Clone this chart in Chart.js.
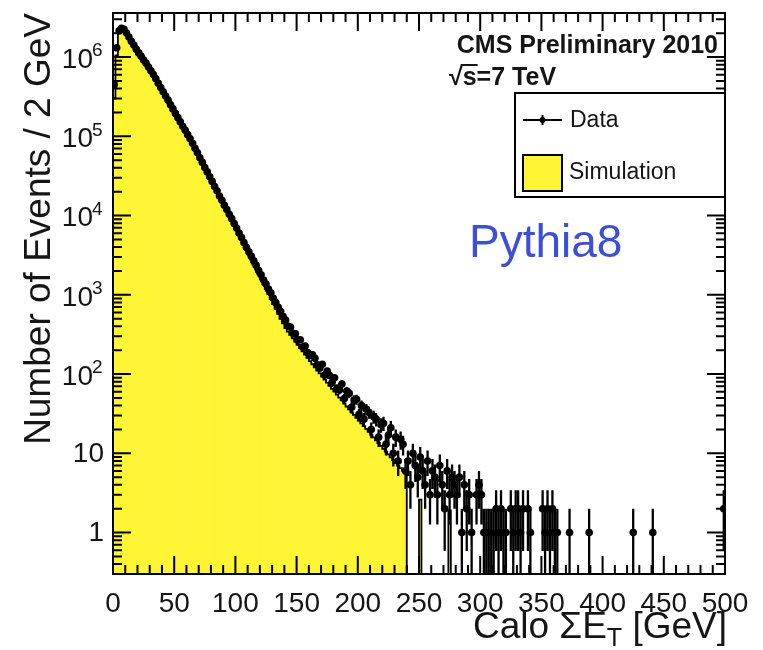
<!DOCTYPE html>
<html>
<head>
<meta charset="utf-8">
<script src="https://cdn.jsdelivr.net/npm/chart.js@4.4.1/dist/chart.umd.min.js"></script>
<style>
  html, body { margin: 0; padding: 0; background: #fff; }
  #wrap { width: 763px; height: 650px; }
</style>
</head>
<body>
<div id="wrap"><canvas id="calo-sumet" width="763" height="650"></canvas></div>
<script>
// Calo sum E_T, 2 GeV bins from 0 to 500 GeV
const binWidth = 2;

// events per bin, collision data
const dataCounts = [
  452000, 1310000, 2150000, 2300000, 2240000, 2010000, 1790000, 1580000, 1420000, 1260000,
  1130000, 1025000, 918000, 835000, 748000, 672000, 601000, 532000, 468000, 413000,
  364000, 322000, 286000, 250000, 222000, 194000, 172000, 152000, 134000, 119000,
  105000, 93100, 81600, 70500, 61900, 53600, 46900, 40500, 35600, 30800,
  27000, 23300, 20500, 17700, 15600, 13500, 11900, 10400, 9150, 7920,
  6950, 6010, 5270, 4560, 3990, 3500, 3060, 2680, 2350, 2030,
  1790, 1540, 1370, 1180, 1060, 905, 797, 696, 615, 532,
  481, 402, 391, 327, 322, 268, 271, 219, 226, 187,
  171, 175, 158, 131, 119, 133, 97, 109, 96, 78,
  90, 66, 63, 75, 49, 61, 57, 38, 47, 48,
  31, 40, 27, 36, 33, 20, 29, 27, 16, 23,
  24, 13, 17, 21, 10, 16, 8, 15, 13, 6,
  8, 4, 10, 7, 5, 9, 6, 4, 8, 3,
  6, 5, 3, 7, 4, 2, 6, 3, 5, 4,
  3, 5, 1, 4, 2, 3, 1, 0, 3, 4,
  3, 1, 1, 1, 1, 1, 2, 1, 2, 1,
  1, 0, 2, 1, 2, 2, 1, 2, 0, 2,
  1, 0, 0, 0, 0, 2, 1, 2, 1, 2,
  1, 1, 0, 0, 0, 0, 1, 0, 0, 0,
  0, 0, 0, 0, 1, 0, 0, 0, 0, 0,
  0, 0, 0, 0, 0, 0, 0, 0, 0, 0,
  0, 0, 1, 0, 0, 0, 0, 0, 0, 0,
  1, 0, 0, 0, 0, 0, 0, 0, 0, 0,
  0, 0, 0, 0, 0, 0, 0, 0, 0, 0,
  0, 0, 0, 0, 0, 0, 0, 0, 0, 2,
];

// events per bin, Pythia8 simulation normalised to data
const simCounts = [
  300000, 1050000, 2080000, 2270000, 2210000, 1990000, 1770000, 1570000, 1400000, 1245000,
  1115000, 1005000, 905000, 818000, 738000, 662000, 591000, 524000, 462000, 406000,
  358000, 316000, 280000, 246000, 217000, 191000, 168000, 148000, 131000, 116000,
  102000, 90000, 79000, 69000, 60200, 52500, 45800, 39900, 34800, 30300,
  26400, 23000, 20000, 17400, 15100, 13100, 11400, 9900, 8600, 7480,
  6500, 5650, 4900, 4250, 3690, 3200, 2780, 2410, 2090, 1810,
  1570, 1360, 1180, 1020, 885, 766, 663, 574, 497, 435,
  380, 344, 312, 283, 257, 233, 212, 193, 176, 160,
  146, 133, 122, 111, 102, 93, 85, 78, 71, 65,
  60, 55, 50.5, 46.5, 42.5, 39, 36, 33, 30.5, 28,
  25.8, 23.8, 22, 20.3, 18.7, 17.2, 15.9, 14.6, 13.5, 12.4,
  11.4, 10.5, 9.7, 8.9, 8.2, 7.6, 7.0, 6.5, 6.0, 5.6,
  0, 0, 0, 0, 0, 2.6, 0, 0, 0, 0,
  0, 0, 0, 0, 0, 0, 0, 1.9, 0, 0,
  0, 0, 0, 0, 0, 0, 0, 0, 0, 0,
  0, 0, 0, 0, 0, 0, 0, 0, 0, 0,
  0, 0, 0, 0, 0, 0, 0, 0, 0, 0,
  0, 0, 0, 0, 0, 0, 0, 0, 0, 0,
  0, 0, 0, 0, 0, 0, 0, 0, 0, 0,
  0, 0, 0, 0, 0, 0, 0, 0, 0, 0,
  0, 0, 0, 0, 0, 0, 0, 0, 0, 0,
  0, 0, 0, 0, 0, 0, 0, 0, 0, 0,
  0, 0, 0, 0, 0, 0, 0, 0, 0, 0,
  0, 0, 0, 0, 0, 0, 0, 0, 0, 0,
  0, 0, 0, 0, 0, 0, 0, 0, 0, 0,
];

const xTickValues = [0, 50, 100, 150, 200, 250, 300, 350, 400, 450, 500];
const xTickLabels = ['0', '50', '100', '150', '200', '250', '300', '350', '400', '450', '500'];
const yTickValues = [1, 10, 100, 1000, 10000, 100000, 1000000];
const yTickBase = ['1', '10', '10', '10', '10', '10', '10'];
const yTickExp = ['', '', '2', '3', '4', '5', '6'];

const FONT = '"Liberation Sans", Arial, Helvetica, sans-serif';
const YELLOW = '#fff535';

const binCenter = (i) => i * binWidth + binWidth / 2;
const dataPoints = [];
dataCounts.forEach((n, i) => { if (n > 0) dataPoints.push({ x: binCenter(i), y: n }); });
const simBars = [];
simCounts.forEach((n, i) => { if (n > 0) simBars.push({ x: binCenter(i), y: n }); });

// simulation outline, error bars, frame and inward ticks on all four sides
const histDecor = {
  id: 'histDecor',
  afterDatasetsDraw(chart) {
    const { ctx, chartArea: a, scales: { x, y } } = chart;
    ctx.save();
    ctx.beginPath();
    ctx.rect(a.left, a.top, a.right - a.left, a.bottom - a.top);
    ctx.clip();
    ctx.strokeStyle = '#000';

    // step outline of the simulated histogram
    ctx.lineWidth = 1.8;
    ctx.beginPath();
    ctx.moveTo(x.getPixelForValue(0), a.bottom);
    simCounts.forEach((n, i) => {
      const py = n > 0 ? y.getPixelForValue(n) : a.bottom;
      ctx.lineTo(x.getPixelForValue(i * binWidth), py);
      ctx.lineTo(x.getPixelForValue((i + 1) * binWidth), py);
    });
    ctx.stroke();

    ctx.lineWidth = 2.3;
    ctx.beginPath();
    dataCounts.forEach((n, i) => {
      if (!n) return;
      const err = Math.sqrt(n);
      const xc = x.getPixelForValue(binCenter(i));
      const yc = y.getPixelForValue(n);
      const yTop = y.getPixelForValue(n + err);
      const yBot = n - err > 0 ? y.getPixelForValue(n - err) : a.bottom;
      ctx.moveTo(xc, yTop);
      ctx.lineTo(xc, yBot);
      ctx.moveTo(x.getPixelForValue(i * binWidth), yc);
      ctx.lineTo(x.getPixelForValue((i + 1) * binWidth), yc);
    });
    ctx.stroke();
    ctx.restore();

    ctx.save();
    ctx.strokeStyle = '#000';
    ctx.lineWidth = 2;
    ctx.beginPath();
    for (let v = 0; v <= 500; v += 10) {
      const px = x.getPixelForValue(v);
      const len = v % 50 === 0 ? 18 : 9;
      ctx.moveTo(px, a.bottom);
      ctx.lineTo(px, a.bottom - len);
      ctx.moveTo(px, a.top);
      ctx.lineTo(px, a.top + len);
    }
    for (let d = 0.1; d <= 1e6; d *= 10) {
      for (let m = 1; m <= 9; m++) {
        const v = m * d;
        if (v < y.min || v > y.max) continue;
        const py = y.getPixelForValue(v);
        const len = m === 1 ? 18 : 9;
        ctx.moveTo(a.left, py);
        ctx.lineTo(a.left + len, py);
        ctx.moveTo(a.right, py);
        ctx.lineTo(a.right - len, py);
      }
    }
    ctx.stroke();
    ctx.strokeRect(a.left, a.top, a.right - a.left, a.bottom - a.top);
    ctx.restore();
  },
};

// axis titles, log labels, CMS captions and legend
const captions = {
  id: 'captions',
  afterDraw(chart) {
    const { ctx, chartArea: a, scales: { y } } = chart;
    ctx.save();
    ctx.fillStyle = '#151515';
    ctx.textBaseline = 'middle';

    yTickValues.forEach((v, i) => {
      const py = y.getPixelForValue(v);
      if (yTickExp[i]) {
        ctx.font = '28px ' + FONT;
        ctx.textAlign = 'right';
        ctx.fillText(yTickBase[i], 93, py + 3);
        ctx.font = '19px ' + FONT;
        ctx.textAlign = 'left';
        ctx.fillText(yTickExp[i], 92, py - 6);
      } else {
        ctx.font = '28px ' + FONT;
        ctx.textAlign = 'right';
        ctx.fillText(yTickBase[i], 104, py + 1);
      }
    });

    ctx.textBaseline = 'alphabetic';
    // y title
    ctx.save();
    ctx.translate(50, 13);
    ctx.rotate(-Math.PI / 2);
    ctx.font = '37px ' + FONT;
    ctx.textAlign = 'right';
    ctx.fillText('Number of Events / 2 GeV', 0, 0);
    ctx.restore();

    // x title with subscript T
    const big = '37px ' + FONT;
    const small = '25px ' + FONT;
    ctx.textAlign = 'left';
    ctx.font = big;
    const w1 = ctx.measureText('Calo ΣE').width;
    const w3 = ctx.measureText(' [GeV]').width;
    ctx.font = small;
    const w2 = ctx.measureText('T').width;
    let tx = a.right + 2 - (w1 + w2 + w3);
    ctx.font = big;
    ctx.fillText('Calo ΣE', tx, 638);
    tx += w1;
    ctx.font = small;
    ctx.fillText('T', tx, 646);
    tx += w2;
    ctx.font = big;
    ctx.fillText(' [GeV]', tx, 638);

    // CMS labels
    ctx.font = 'bold 25px ' + FONT;
    ctx.textAlign = 'right';
    ctx.fillText('CMS Preliminary 2010', 718, 53);
    ctx.textAlign = 'left';
    const root = ctx.measureText('√').width;
    ctx.fillText('√', 449, 85);
    ctx.fillText('s=7 TeV', 449 + root, 85);
    ctx.lineWidth = 2;
    ctx.strokeStyle = '#151515';
    ctx.beginPath();
    ctx.moveTo(449 + root - 2, 65);
    ctx.lineTo(449 + root + ctx.measureText('s').width + 1, 65);
    ctx.stroke();

    // Pythia8 tag
    ctx.fillStyle = '#3d4fd6';
    ctx.font = '46px ' + FONT;
    ctx.fillText('Pythia8', 469, 257);

    // legend box
    const [dataSet, simSet] = chart.data.datasets;
    ctx.fillStyle = '#fff';
    ctx.strokeStyle = '#000';
    ctx.lineWidth = 2;
    ctx.fillRect(515, 93, a.right - 515, 104);
    ctx.strokeRect(515, 93, a.right - 515, 104);

    ctx.beginPath();
    ctx.moveTo(523, 120);
    ctx.lineTo(562, 120);
    ctx.moveTo(542.5, 115);
    ctx.lineTo(542.5, 125);
    ctx.stroke();
    ctx.fillStyle = '#000';
    ctx.beginPath();
    ctx.arc(542.5, 120, 3, 0, Math.PI * 2);
    ctx.fill();

    ctx.fillStyle = YELLOW;
    ctx.fillRect(523, 155, 39, 36);
    ctx.strokeRect(523, 155, 39, 36);

    ctx.fillStyle = '#151515';
    ctx.font = '23px ' + FONT;
    ctx.textBaseline = 'middle';
    ctx.fillText(dataSet.label, 570, 121);
    ctx.fillText(simSet.label, 569, 173);
    ctx.restore();
  },
};

new Chart(document.getElementById('calo-sumet'), {
  type: 'scatter',
  data: {
    datasets: [
      {
        type: 'scatter',
        label: 'Data',
        data: dataPoints,
        pointRadius: 3.8,
        pointHoverRadius: 3.8,
        pointBackgroundColor: '#000',
        pointBorderWidth: 0,
        order: 0,
      },
      {
        type: 'bar',
        label: 'Simulation',
        data: simBars,
        backgroundColor: YELLOW,
        borderWidth: 0,
        barPercentage: 1,
        categoryPercentage: 1,
        order: 1,
      },
    ],
  },
  options: {
    responsive: false,
    animation: false,
    events: [],
    layout: { padding: { left: 0, top: 13, right: 38, bottom: 0 } },
    plugins: {
      legend: { display: false },
      tooltip: { enabled: false },
    },
    scales: {
      x: {
        type: 'linear',
        min: 0,
        max: 500,
        offset: false,
        grid: { display: false },
        border: { display: false },
        afterBuildTicks: (scale) => {
          scale.ticks = xTickValues.map((v) => ({ value: v }));
        },
        afterFit: (scale) => {
          scale.height = 76;
          scale.paddingLeft = 0;
          scale.paddingRight = 0;
        },
        ticks: {
          callback: (value, index) => xTickLabels[index],
          font: { family: FONT, size: 28 },
          color: '#151515',
          padding: 5,
          maxRotation: 0,
          autoSkip: false,
        },
      },
      y: {
        type: 'logarithmic',
        min: 0.3,
        max: 3.6e6,
        grid: { display: false },
        border: { display: false },
        ticks: { display: false },
        afterFit: (scale) => {
          scale.width = 113;
          scale.paddingTop = 0;
          scale.paddingBottom = 0;
        },
      },
    },
  },
  plugins: [histDecor, captions],
});
</script>
</body>
</html>
